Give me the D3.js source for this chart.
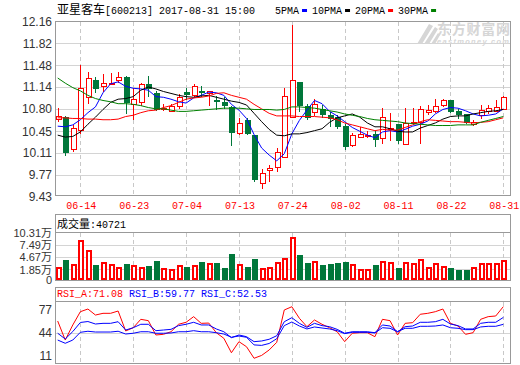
<!DOCTYPE html>
<html>
<head>
<meta charset="utf-8">
<script src="https://cdn.jsdelivr.net/npm/d3@7"></script>
<style>
html, body { margin: 0; padding: 0; background: #fff; }
svg { display: block; }
.mono { font-family: "Liberation Mono", "DejaVu Sans Mono", monospace; font-size: 10px; }
.cjk { font-family: "Noto Sans CJK SC", sans-serif; }
.num { font-family: "Liberation Sans", "Noto Sans CJK SC", sans-serif; font-size: 12px; fill: #333; }
</style>
</head>
<body>
<script>
// trading days shown (06-09 .. 08-31)
var days = ['06-09','06-12','06-13','06-14','06-15','06-16','06-19','06-20','06-21','06-22',
            '06-23','06-26','06-27','06-28','06-29','06-30','07-03','07-04','07-05','07-06',
            '07-07','07-10','07-11','07-12','07-13','07-14','07-17','07-18','07-19','07-20',
            '07-21','07-24','07-25','07-26','07-27','07-28','07-31','08-01','08-02','08-03',
            '08-04','08-07','08-08','08-09','08-10','08-11','08-14','08-15','08-16','08-17',
            '08-18','08-21','08-22','08-23','08-24','08-25','08-28','08-29','08-30','08-31'];
var dateTicks = ['06-14','06-23','07-04','07-13','07-24','08-02','08-11','08-22','08-31'];

var open  = [10.64,10.68,10.17,10.47,10.98,11.25,11.15,11.20,11.25,11.29,
             10.87,10.91,11.19,11.05,10.79,10.77,10.85,11.06,11.02,11.08,
             11.05,10.94,10.90,10.83,10.43,10.63,10.40,9.64,9.84,9.89,
             10.05,10.67,11.22,10.84,10.75,10.80,10.70,10.67,10.54,10.24,
             10.36,10.39,10.41,10.34,10.49,10.57,10.26,10.58,10.59,10.75,
             10.77,10.86,10.94,10.77,10.72,10.57,10.71,10.76,10.77,10.80];
var high  = [10.81,10.69,10.55,11.49,11.37,11.30,11.35,11.36,11.37,11.31,
             11.12,11.20,11.31,11.08,10.88,10.88,11.03,11.12,11.19,11.15,
             11.08,11.00,10.98,10.85,10.66,10.66,10.40,9.87,9.92,10.19,
             11.13,12.10,11.22,10.88,10.95,10.86,10.75,10.70,10.57,10.43,
             10.51,10.46,10.45,10.82,10.74,10.57,10.82,10.82,10.84,10.86,
             10.95,10.96,10.94,10.80,10.72,10.62,10.86,10.86,10.93,11.00];
var low   = [10.60,10.07,10.12,10.41,10.88,11.04,11.06,11.18,11.21,10.72,
             10.63,10.85,10.98,10.76,10.77,10.75,10.80,10.93,10.98,10.99,
             10.85,10.78,10.80,10.22,10.40,10.39,9.66,9.55,9.66,9.81,
             10.03,10.66,10.75,10.62,10.69,10.66,10.51,10.49,10.16,10.21,
             10.34,10.34,10.20,10.26,10.30,10.26,10.26,10.57,10.26,10.71,
             10.73,10.83,10.73,10.64,10.57,10.54,10.64,10.72,10.75,10.80];
var close = [10.69,10.13,10.50,11.12,11.28,11.12,11.21,11.21,11.29,10.91,
             10.96,11.19,11.12,10.79,10.82,10.85,10.98,11.03,11.15,11.06,
             11.07,10.93,10.86,10.44,10.58,10.43,9.70,9.80,9.88,10.12,
             11.00,11.25,10.86,10.67,10.88,10.72,10.66,10.54,10.22,10.40,
             10.41,10.40,10.33,10.67,10.50,10.32,10.58,10.59,10.80,10.78,
             10.85,10.93,10.76,10.72,10.59,10.59,10.78,10.81,10.83,10.98];

// moving averages
var ma5  = [10.53,10.52,10.55,10.63,10.74,10.83,11.05,11.19,11.22,11.15,
            11.12,11.11,11.09,10.99,10.98,10.95,10.91,10.89,10.97,11.01,
            11.06,11.05,11.01,10.87,10.78,10.65,10.40,10.19,10.08,9.99,
            10.10,10.41,10.62,10.78,10.93,10.88,10.76,10.69,10.60,10.51,
            10.45,10.39,10.35,10.44,10.46,10.44,10.48,10.53,10.56,10.61,
            10.72,10.79,10.82,10.81,10.77,10.72,10.69,10.70,10.72,10.80];
var ma10 = [10.39,10.36,10.37,10.44,10.56,10.67,10.79,10.90,10.95,10.96,
            10.99,11.09,11.14,11.11,11.07,11.04,11.01,10.99,10.98,11.00,
            11.01,10.98,10.95,10.92,10.90,10.86,10.73,10.60,10.48,10.39,
            10.38,10.41,10.41,10.43,10.46,10.49,10.59,10.66,10.69,10.72,
            10.67,10.58,10.52,10.52,10.49,10.45,10.44,10.44,10.50,10.54,
            10.58,10.64,10.68,10.69,10.69,10.72,10.74,10.76,10.77,10.79];
var ma20 = [10.66,10.66,10.65,10.65,10.64,10.64,10.63,10.63,10.64,10.68,
            10.70,10.74,10.77,10.78,10.82,10.85,10.90,10.95,10.97,10.98,
            11.00,11.04,11.05,11.01,10.98,10.95,10.87,10.80,10.73,10.69,
            10.69,10.69,10.68,10.68,10.68,10.67,10.66,10.63,10.58,10.55,
            10.52,10.49,10.46,10.48,10.47,10.47,10.51,10.55,10.60,10.63,
            10.62,10.61,10.60,10.60,10.59,10.58,10.59,10.60,10.63,10.66];
var ma30 = [11.28,11.20,11.13,11.08,11.01,10.96,10.93,10.91,10.88,10.88,
            10.87,10.85,10.82,10.80,10.80,10.78,10.76,10.76,10.77,10.78,
            10.79,10.80,10.81,10.81,10.81,10.80,10.79,10.79,10.79,10.78,
            10.79,10.83,10.83,10.82,10.81,10.79,10.77,10.75,10.72,10.70,
            10.68,10.65,10.63,10.62,10.61,10.60,10.58,10.57,10.56,10.55,
            10.54,10.54,10.54,10.55,10.55,10.55,10.59,10.62,10.65,10.68];

// volume in 万 (10k shares)
var volume = [2.48,4.04,3.11,8.70,6.37,2.88,3.50,3.11,2.48,3.11,
              2.88,2.48,2.64,3.81,2.11,1.87,2.88,2.34,2.88,3.50,
              3.27,3.27,2.11,5.44,3.11,2.34,4.27,2.11,2.34,3.50,
              4.44,9.33,5.21,3.41,3.74,2.88,3.11,3.41,3.57,3.04,
              1.87,1.87,2.88,3.74,3.50,2.11,3.50,3.27,4.20,2.48,
              3.27,2.71,2.11,1.71,1.71,2.34,3.27,3.27,3.27,4.07];
var lastVolume = 40721;

var rsiA = [56.0,36.1,51.9,65.8,68.6,62.3,64.1,64.1,66.5,45.6,
            49.0,57.8,56.4,41.4,42.1,44.8,52.6,54.7,60.6,53.6,
            53.9,43.8,37.9,22.8,34.4,29.1,17.0,20.0,25.7,33.7,
            67.6,71.0,58.9,50.1,57.1,52.6,49.0,44.8,34.4,43.2,
            43.8,43.8,39.6,57.8,56.4,41.4,53.6,54.3,63.1,64.1,
            65.8,68.6,53.6,50.8,42.1,43.8,57.8,60.6,61.3,71.08];
var rsiB = [43.2,37.2,45.0,54.5,55.5,52.9,53.6,53.6,55.3,46.6,
            49.0,52.6,52.6,45.9,46.6,47.3,51.2,52.6,54.7,51.9,
            51.9,47.7,44.8,38.6,41.4,39.6,34.4,35.1,36.9,40.6,
            55.3,59.5,53.6,49.4,53.6,51.2,50.1,47.3,43.2,44.8,
            44.8,44.8,43.8,51.9,50.8,44.8,50.1,50.8,54.7,54.7,
            55.3,57.8,52.9,51.2,47.7,47.7,53.6,54.7,54.7,59.77];
var rsiC = [36.1,32.7,36.1,44.2,45.3,44.5,44.5,44.5,45.3,42.4,
            43.2,44.8,44.8,43.2,43.2,43.5,44.8,44.8,45.9,44.8,
            44.8,43.8,42.4,39.0,40.3,39.0,31.0,30.5,32.5,37.5,
            51.2,55.0,50.8,47.7,49.8,48.7,47.7,45.9,42.8,44.2,
            44.2,44.2,43.5,49.0,48.4,44.8,48.4,48.4,50.5,50.5,
            50.8,51.9,49.0,48.4,47.0,47.0,49.8,50.5,50.5,52.53];

var priceTicks = [9.43, 9.77, 10.11, 10.45, 10.80, 11.14, 11.48, 11.82, 12.16];
var volTicks = [1.85, 4.67, 7.49, 10.31];
var volFloor = -0.62;   // bottom edge of the volume pane (labelled 0)
var rsiTicks = [11, 44, 77];

var title = ['亚星客车', '[600213] 2017-08-31 15:00'];
var maNames = ['5PMA', '10PMA', '20PMA', '30PMA'];
var maColors = ['#00f', '#000', '#f00', '#008000'];

var RED = '#f00', GREEN = '#00773a';

var svg = d3.select('body').append('svg').attr('width', 520).attr('height', 365);

// panes
var L = 55, R = 510;
var x = d3.scaleLinear().domain([0, days.length - 1]).range([57.7, 503.3]);
var y = d3.scaleLinear().domain([9.43, 12.16]).range([196.8, 21.5]);
var vy = d3.scaleLinear().domain([volFloor, 10.31]).range([280.3, 232.5]);
var ry = d3.scaleLinear().domain([11, 77]).range([364, 301]);
var px = function(i){ return Math.round(x(i)) + 0.5; };
var tickIdx = dateTicks.map(function(d){ return days.indexOf(d); });

function hgrid(vals, sc){
    svg.append('g').selectAll('line').data(vals).enter().append('line')
        .attr('x1', L).attr('x2', R)
        .attr('y1', function(d){ return Math.round(sc(d)) + 0.5; })
        .attr('y2', function(d){ return Math.round(sc(d)) + 0.5; })
        .attr('stroke', '#d4d4d4').attr('shape-rendering', 'crispEdges');
}
function vgrid(y0, y1){
    svg.append('g').selectAll('line').data(tickIdx).enter().append('line')
        .attr('x1', px).attr('x2', px).attr('y1', y0).attr('y2', y1)
        .attr('stroke', '#c8c8c8').attr('stroke-dasharray', '4,3')
        .attr('shape-rendering', 'crispEdges');
}
function frame(y0, y1){
    svg.append('rect').attr('x', L + 0.5).attr('y', y0 + 0.5)
        .attr('width', R - L).attr('height', y1 - y0)
        .attr('fill', 'none').attr('stroke', '#999').attr('shape-rendering', 'crispEdges');
}

// grids
hgrid(priceTicks.slice(1, -1), y);
vgrid(22, 195);
hgrid(volTicks.slice(0, -1), vy);
vgrid(233, 280);
hgrid([44], ry);
vgrid(302, 363);

// watermark
var wm = svg.append('g').attr('fill', '#d6d6d6');
wm.append('path').attr('d', 'M417,44 L429,24 L433,26 L422,44 Z M424,44 L435,27 L438,29 L429,44 Z M431,44 L438,33 L440,35 L435,44 Z');
wm.append('text').attr('class', 'cjk').attr('x', 437).attr('y', 34)
    .attr('font-size', 14).attr('font-weight', 'bold').attr('textLength', 73).text('东方财富网');
wm.append('text').attr('x', 437).attr('y', 43.5)
    .attr('font-family', 'Liberation Sans, sans-serif').attr('font-size', 7.5)
    .attr('font-weight', 'bold').attr('font-style', 'italic').attr('textLength', 72).text('eastmoney.com');

// candles
var cg = svg.append('g').attr('shape-rendering', 'crispEdges');
days.forEach(function(d, i){
    var up = close[i] >= open[i];
    var c = up ? RED : GREEN;
    var X = px(i);
    var top = Math.round(y(Math.max(open[i], close[i])));
    var bot = Math.round(y(Math.min(open[i], close[i])));
    if (bot - top < 1) bot = top + 1;
    cg.append('line').attr('x1', X).attr('x2', X).attr('y1', y(high[i])).attr('y2', top).attr('stroke', c);
    cg.append('line').attr('x1', X).attr('x2', X).attr('y1', bot).attr('y2', y(low[i])).attr('stroke', c);
    if (up) {
        cg.append('rect').attr('x', X - 2.5).attr('y', top + 0.5).attr('width', 5).attr('height', bot - top)
            .attr('fill', '#fff').attr('stroke', c);
    } else {
        cg.append('rect').attr('x', X - 3).attr('y', top).attr('width', 6).attr('height', bot - top + 1)
            .attr('fill', c);
    }
});

// moving averages
var line = d3.line().x(function(d, i){ return x(i); });
[ma5, ma10, ma20, ma30].forEach(function(s, k){
    svg.append('path').datum(s).attr('d', line.y(function(v){ return y(v); }))
        .attr('fill', 'none').attr('stroke', maColors[k]).attr('stroke-width', 1);
});

// volume bars: up days hollow red (2px border), down days solid green
var vg = svg.append('g').attr('shape-rendering', 'crispEdges');
volume.forEach(function(v, i){
    var up = close[i] >= open[i];
    var X0 = Math.round(x(i)) - 2;
    var t = Math.round(vy(v));
    vg.append('rect').attr('x', X0).attr('y', t).attr('width', 6).attr('height', 280 - t)
        .attr('fill', up ? RED : GREEN);
    if (up && 280 - t > 4) {
        vg.append('rect').attr('x', X0 + 2).attr('y', t + 2).attr('width', 2).attr('height', 280 - t - 4)
            .attr('fill', '#fff');
    }
});

// RSI lines
[[rsiA, RED], [rsiB, '#00f'], [rsiC, '#00f']].forEach(function(s){
    svg.append('path').datum(s[0]).attr('d', line.y(function(v){ return ry(v); }))
        .attr('fill', 'none').attr('stroke', s[1]).attr('stroke-width', 1);
});

// frames and header separators
frame(21, 195);
frame(214, 280);
frame(287, 363);
svg.append('line').attr('x1', L).attr('x2', R).attr('y1', 232.5).attr('y2', 232.5).attr('stroke', '#999');
svg.append('line').attr('x1', L).attr('x2', R).attr('y1', 301.5).attr('y2', 301.5).attr('stroke', '#999');

// axes
var ya = svg.append('g').attr('transform', 'translate(' + L + ',0)')
    .call(d3.axisLeft(y).tickValues(priceTicks).tickSize(0).tickPadding(3)
        .tickFormat(function(d){ return d.toFixed(2); }));
ya.select('.domain').remove();
ya.selectAll('text').attr('class', 'num').attr('font-size', null).attr('font-family', null);

var xa = svg.append('g').attr('transform', 'translate(0,195)')
    .call(d3.axisBottom(x).tickValues(tickIdx).tickSize(0).tickPadding(7)
        .tickFormat(function(i){ return days[i]; }));
xa.select('.domain').remove();
xa.selectAll('text').attr('class', 'mono').attr('font-size', null).attr('font-family', null)
    .attr('fill', RED).attr('transform', 'translate(0.5,0)');

var va = svg.append('g').attr('transform', 'translate(' + L + ',0)')
    .call(d3.axisLeft(vy).tickValues([volFloor].concat(volTicks)).tickSize(0).tickPadding(3)
        .tickFormat(function(d){ return d <= 0 ? '0' : d.toFixed(2) + '万'; }));
va.select('.domain').remove();
va.selectAll('text').attr('class', 'num').attr('font-size', null).attr('font-family', null)
    .style('font-size', '11px');

svg.append('g').selectAll('text').data(rsiTicks).enter().append('text')
    .attr('class', 'num').attr('text-anchor', 'end').attr('x', 52)
    .attr('y', function(d){ return Math.min(Math.max(ry(d), 310), 356); })
    .attr('dy', '0.35em').text(function(d){ return d; });

// title and legend
var tt = svg.append('text').attr('x', 57).attr('y', 14);
tt.append('tspan').attr('class', 'cjk').attr('font-size', 12).text(title[0]);
tt.append('tspan').attr('class', 'mono').text(title[1]);

var lx = 275;
maNames.forEach(function(n, k){
    var t = svg.append('text').attr('class', 'mono').attr('x', lx).attr('y', 14).text(n);
    var w = t.node().getComputedTextLength();
    svg.append('rect').attr('x', lx + w + 3).attr('y', 9).attr('width', 5).attr('height', 3)
        .attr('fill', maColors[k]);
    lx += w + 13;
});

// pane headers
var vh = svg.append('text').attr('x', 57).attr('y', 228);
vh.append('tspan').attr('class', 'cjk').attr('font-size', 11).text('成交量');
vh.append('tspan').attr('class', 'mono').attr('font-size', 11.5).text(':' + lastVolume);

var rsiHead = [['RSI_A:' + rsiA[59].toFixed(2), RED], ['RSI_B:' + rsiB[59].toFixed(2), '#00f'], ['RSI_C:' + rsiC[59].toFixed(2), '#00f']];
var hx = 57;
rsiHead.forEach(function(h){
    var t = svg.append('text').attr('class', 'mono').attr('x', hx).attr('y', 297).attr('fill', h[1]).text(h[0]);
    hx += t.node().getComputedTextLength() + 6;
});
</script>
</body>
</html>
